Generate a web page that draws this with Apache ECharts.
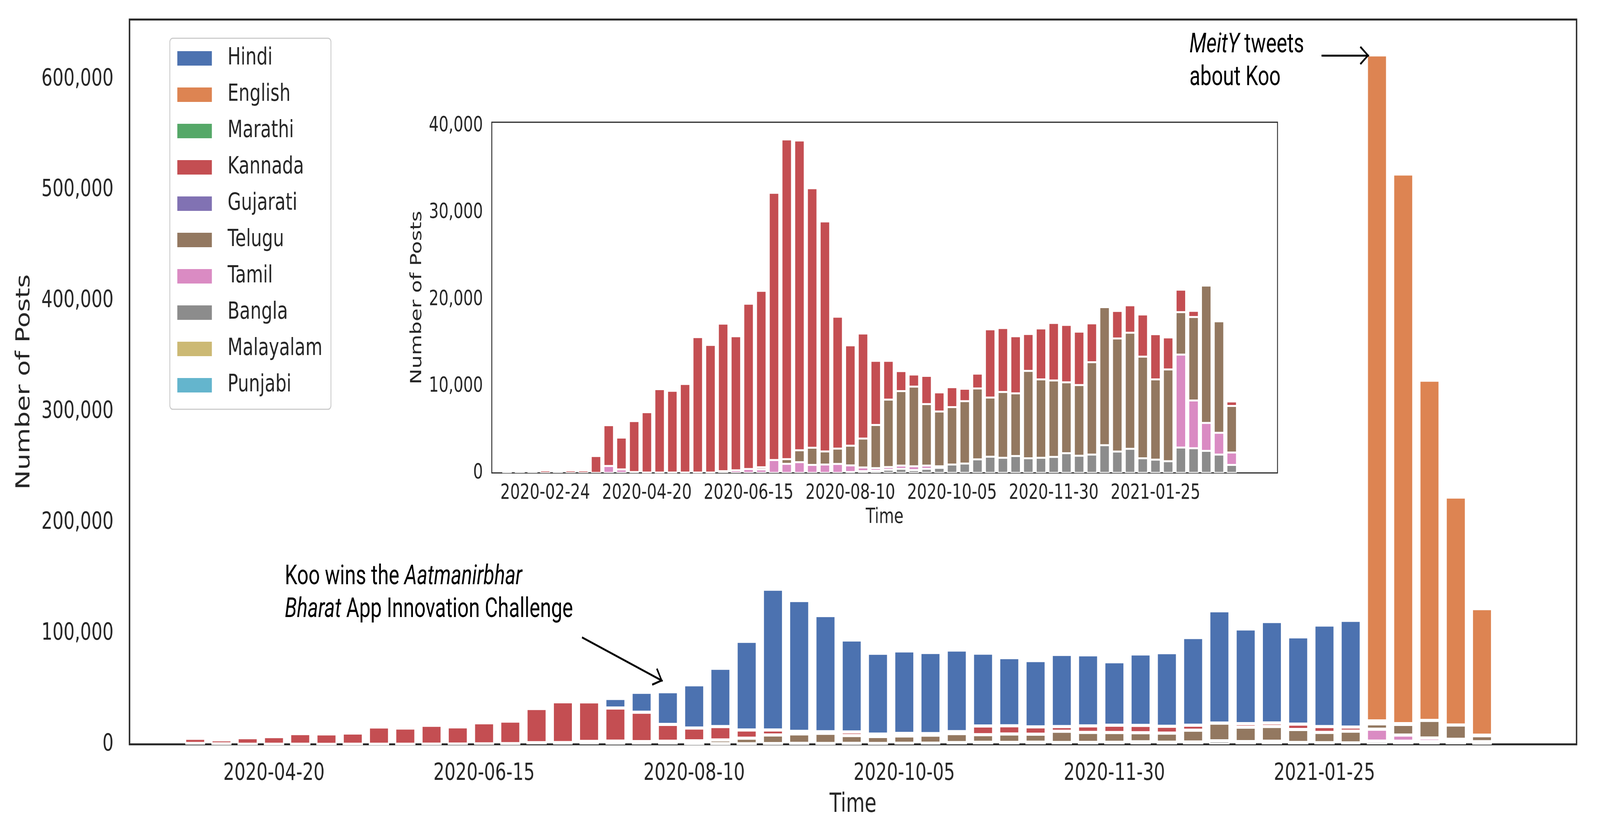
<!DOCTYPE html>
<html><head><meta charset="utf-8">
<script src="https://cdn.jsdelivr.net/npm/echarts@6/dist/echarts.min.js"></script>
<style>html,body{margin:0;padding:0;background:#fff;overflow:hidden}#wrap{overflow:hidden}#c{width:5596px;height:2110px;transform-origin:0 0}</style>
</head><body><div id="wrap"><div id="c"></div></div><script>
// ---------- data ----------
const weeks = ['2020-02-03','2020-02-10','2020-02-17','2020-02-24','2020-03-02','2020-03-09','2020-03-16','2020-03-23','2020-03-30',
'2020-04-06','2020-04-13','2020-04-20','2020-04-27','2020-05-04','2020-05-11','2020-05-18','2020-05-25','2020-06-01','2020-06-08',
'2020-06-15','2020-06-22','2020-06-29','2020-07-06','2020-07-13','2020-07-20','2020-07-27','2020-08-03','2020-08-10','2020-08-17',
'2020-08-24','2020-08-31','2020-09-07','2020-09-14','2020-09-21','2020-09-28','2020-10-05','2020-10-12','2020-10-19','2020-10-26',
'2020-11-02','2020-11-09','2020-11-16','2020-11-23','2020-11-30','2020-12-07','2020-12-14','2020-12-21','2020-12-28','2021-01-04',
'2021-01-11','2021-01-18','2021-01-25','2021-02-01','2021-02-08','2021-02-15','2021-02-22','2021-03-01','2021-03-08'];
const mainTickLabels = ['2020-04-20','2020-06-15','2020-08-10','2020-10-05','2020-11-30','2021-01-25'];
const insetTickLabels = ['2020-02-24','2020-04-20','2020-06-15','2020-08-10','2020-10-05','2020-11-30','2021-01-25'];
const mainFirstWeek = '2020-03-30';

const hindi = [0,0,0,0,0,0,0,0,0,0, 0,0,0,0,0,0,0,0,0,0,
  0,0,0,0,8600,18000,29500,39000,52500,80000,
  127000,118000,104800,83000,72900,74400,73200,73600,65700,61500,
  59800,65100,64100,57200,64500,66400,79100,101200,85400,91500,
  78700,91600,96200,0,0,0,0,0];
const english = [0,0,0,0,0,0,0,0,0,0, 0,0,0,0,0,0,0,0,0,0,
  0,0,0,0,0,0,0,0,0,0, 0,0,0,0,0,0,0,0,0,0,
  0,0,0,0,0,0,0,0,0,0, 0,0,0,600800,495800,306900,205600,114200];
const marathi = [0,0,0,0,0,0,0,0,0,0, 0,0,0,0,0,0,0,0,0,0, 0,0,0,0,0,0,0,0,0,0,
  0,0,0,0,0,0,0,0,0,0, 0,0,0,0,0,0,0,0,0,0, 0,0,0,0,0,0,0,0];
const kannada = [80,180,200,290,220,290,290,1950,4700,3670,
  5870,6950,9600,9420,10200,15600,14700,17000,15450,19050,
  20330,30800,36840,35700,29900,26500,15200,11560,12100,7400,
  4470,2300,1400,3250,2200,2300,1430,1710,7860,7370,
  6580,4250,5870,6630,6610,6160,4470,140,3170,3170,
  4860,5210,3700,2590,710,0,0,520];
const gujarati = [0,0,0,0,0,0,0,0,0,0, 0,0,0,0,0,0,0,0,0,0, 0,0,0,0,0,0,0,0,0,0,
  0,0,0,0,0,0,0,0,0,0, 0,0,0,0,0,0,0,0,0,0, 0,0,0,0,0,0,0,0];
const telugu = [0,0,0,0,0,0,0,0,0,0, 0,0,0,0,0,0,0,0,0,0,
  250,0,540,1370,1980,1510,1770,2270,3330,4970,
  7770,8590,9180,7090,6320,6610,7190,8170,6820,7590,
  7220,10070,9040,8800,8170,8140,10640,15900,13030,13370,
  11710,9250,10570,4890,9620,15830,12850,5370];
const tamil = [0,0,0,0,0,0,0,0,800,400,
  100,50,50,40,50,50,50,200,300,450,
  400,1480,1050,1240,920,970,1030,770,430,300,
  310,370,430,370,180,0,0,0,0,0,
  0,0,0,0,0,0,0,0,0,0,
  0,0,0,10710,5500,3220,2500,1430];
const bangla = [0,0,0,0,0,0,0,0,0,0, 0,0,0,0,0,0,0,0,0,0,
  0,0,0,0,0,0,0,100,200,250,
  370,470,330,470,580,970,1080,1560,1870,1740,
  1950,1690,1740,1850,2270,1980,2120,3200,2460,2780,
  1690,1530,1350,2930,2850,2540,2120,920];
const malayalam = [0,0,0,0,0,0,0,0,0,0, 0,0,0,0,0,0,0,0,0,0, 0,0,0,0,0,0,0,0,0,0,
  0,0,0,0,0,0,0,0,0,0, 0,0,0,0,0,0,0,0,0,0, 0,0,0,0,0,0,0,0];
const punjabi = [0,0,0,0,0,0,0,0,0,0, 0,0,0,0,0,0,0,0,0,0, 0,0,0,0,0,0,0,0,0,0,
  0,0,0,0,0,0,0,0,0,0, 0,0,0,0,0,0,0,0,0,0, 0,0,0,0,0,0,0,0];

const languages = ['Hindi','English','Marathi','Kannada','Gujarati','Telugu','Tamil','Bangla','Malayalam','Punjabi'];
const valuesByLang = {Hindi:hindi, English:english, Marathi:marathi, Kannada:kannada, Gujarati:gujarati,
  Telugu:telugu, Tamil:tamil, Bangla:bangla, Malayalam:malayalam, Punjabi:punjabi};
const colors = {Hindi:'#4C72B0', English:'#DD8452', Marathi:'#55A868', Kannada:'#C44E52', Gujarati:'#8172B3',
  Telugu:'#937860', Tamil:'#DA8BC3', Bangla:'#8C8C8C', Malayalam:'#CCB974', Punjabi:'#64B5CD'};
const stackOrder = ['Punjabi','Malayalam','Bangla','Tamil','Telugu','Gujarati','Kannada','Marathi','English','Hindi'];
const insetLangs = stackOrder.filter(l => l !== 'Hindi' && l !== 'English');

// ---------- page scaling: design size 5596 x 2110, fitted to the window ----------
const W = 5596, H = 2110;
const vw = window.innerWidth || W, vh = window.innerHeight || H;
const sx = Math.min(1, vw / W), sy = Math.min(1, vh / H);
document.getElementById('wrap').style.width = (W * sx) + 'px';
document.getElementById('wrap').style.height = (H * sy) + 'px';
document.getElementById('c').style.transform = 'scale(' + sx + ',' + sy + ')';

// ---------- chart ----------
const TXT = '#262626';
const FONT = 'DejaVu Sans';
const fmt = v => Math.round(v).toLocaleString('en-US');
const mainStart = weeks.indexOf(mainFirstWeek);
// value first, week index second -> stacking happens on the value dimension
const pts = (vals, from) => vals.map((v, i) => [(i >= from && v > 0) ? v : null, i]);
const arrowPath = 'path://M0,0 L-10,12 L-8.4,13.6 L0,3.2 L8.4,13.6 L10,12 Z M-0.01,-13.6 L0.01,-13.6 L0,-13.59 Z';

const series = [];
stackOrder.forEach(lang => {
  const s = {
    name: lang, type: 'bar', xAxisIndex: 0, yAxisIndex: 0, stack: 'main', barWidth: 71,
    encode: {x: 1, y: 0},
    itemStyle: {color: colors[lang], borderColor: '#fff', borderWidth: 4},
    data: pts(valuesByLang[lang], mainStart), silent: true
  };
  if (lang === 'Hindi') {
    s.markLine = {
      silent: true, animation: false, symbol: ['none', arrowPath], symbolSize: [48, 65],
      label: {show: false}, lineStyle: {color: '#000', width: 5, type: 'solid'}, emphasis: {disabled: true},
      data: [
        [{coord: [22.73, 96500]}, {coord: [25.80, 57100]}],
        [{coord: [50.89, 621400]}, {coord: [52.70, 621400]}]
      ]
    };
  }
  series.push(s);
});
insetLangs.forEach(lang => {
  series.push({
    name: lang, type: 'bar', xAxisIndex: 1, yAxisIndex: 1, stack: 'inset', barWidth: 35,
    encode: {x: 1, y: 0},
    itemStyle: {color: colors[lang], borderColor: '#fff', borderWidth: 2.5},
    data: pts(valuesByLang[lang], 0), silent: true
  });
});

const axisCommon = {axisLine: {show: false}, axisTick: {show: false}, splitLine: {show: false}};

const option = {
  animation: false,
  backgroundColor: '#fff',
  textStyle: {fontFamily: FONT, color: TXT},
  grid: [
    {left: 453, top: 50, width: 5061, height: 1856, show: true, borderColor: TXT, borderWidth: 5,
     backgroundColor: 'transparent', outerBoundsMode: 'none', containLabel: false},
    {left: 1720, top: 313, width: 2748, height: 898, show: true, borderColor: TXT, borderWidth: 3,
     backgroundColor: 'transparent', outerBoundsMode: 'none', containLabel: false}
  ],
  xAxis: [
    Object.assign({gridIndex: 0, type: 'value', min: 5.5, max: 60.6,
      axisLabel: {customValues: mainTickLabels.map(d => weeks.indexOf(d)), formatter: v => weeks[Math.round(v)],
        fontSize: 61, color: TXT, fontFamily: FONT, margin: 45},
      name: 'Time', nameLocation: 'middle', nameGap: 122,
      nameTextStyle: {fontSize: 67, color: TXT, fontFamily: FONT}}, axisCommon),
    Object.assign({gridIndex: 1, type: 'value', min: -1.2, max: 60.6,
      axisLabel: {customValues: insetTickLabels.map(d => weeks.indexOf(d)), formatter: v => weeks[Math.round(v)],
        fontSize: 54, color: TXT, fontFamily: FONT, margin: 25},
      name: 'Time', nameLocation: 'middle', nameGap: 87,
      nameTextStyle: {fontSize: 54, color: TXT, fontFamily: FONT}}, axisCommon)
  ],
  yAxis: [
    Object.assign({gridIndex: 0, type: 'value', min: 0, max: 653800, interval: 100000,
      axisLabel: {formatter: fmt, showMaxLabel: false, fontSize: 61, color: TXT, fontFamily: FONT, margin: 56},
      name: 'Number of Posts', nameLocation: 'middle', nameGap: 334,
      nameTextStyle: {fontSize: 67, color: TXT, fontFamily: FONT}}, axisCommon),
    Object.assign({gridIndex: 1, type: 'value', min: 0, max: 40410, interval: 10000,
      axisLabel: {formatter: fmt, showMaxLabel: false, fontSize: 54, color: TXT, fontFamily: FONT, margin: 31},
      name: 'Number of Posts', nameLocation: 'middle', nameGap: 234,
      nameTextStyle: {fontSize: 54, color: TXT, fontFamily: FONT}}, axisCommon)
  ],
  legend: {
    orient: 'vertical', left: 594, top: 98, data: languages, selectedMode: false,
    icon: 'rect', itemWidth: 121, itemHeight: 37, itemGap: 32,
    padding: [21, 30, 31, 26], backgroundColor: '#fff', borderColor: '#cccccc', borderWidth: 3, borderRadius: 10,
    itemStyle: {borderWidth: 0},
    textStyle: {fontSize: 61, lineHeight: 61, color: TXT, fontFamily: FONT, padding: [0, 0, 0, 50]}
  },
  graphic: [
    {type: 'text', left: 4160, top: 74, z: 100, silent: true,
     style: {text: '{i|MeitY} tweets\nabout Koo', fontSize: 70, lineHeight: 84, fontFamily: 'Roboto', fill: '#000',
       rich: {i: {fontStyle: 'italic', fontSize: 70, lineHeight: 84, fontFamily: 'Roboto', fill: '#000'}}}},
    {type: 'text', left: 996, top: 1436, z: 100, silent: true,
     style: {text: 'Koo wins the {i|Aatmanirbhar}\n{i|Bharat} App Innovation Challenge', fontSize: 70, lineHeight: 84,
       fontFamily: 'Roboto', fill: '#000',
       rich: {i: {fontStyle: 'italic', fontSize: 70, lineHeight: 84, fontFamily: 'Roboto', fill: '#000'}}}}
  ],
  series: series
};

const chart = echarts.init(document.getElementById('c'), null,
  {renderer: 'canvas', width: W, height: H, devicePixelRatio: (window.devicePixelRatio || 1)});
chart.setOption(option);
</script></body></html>
